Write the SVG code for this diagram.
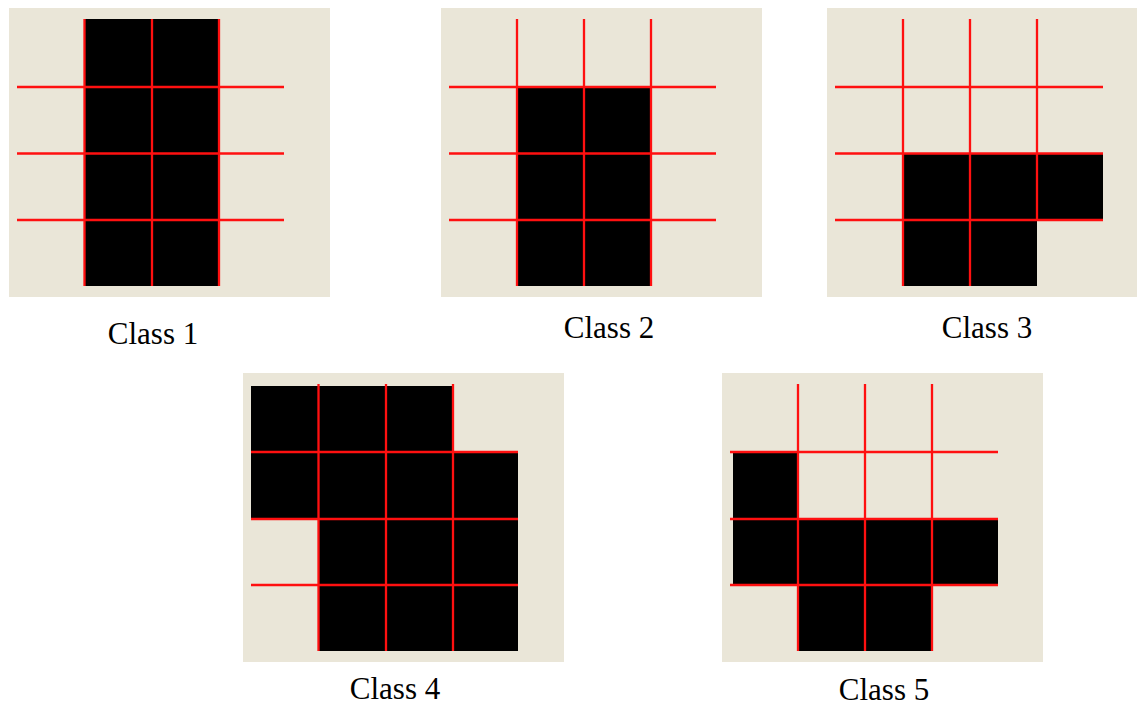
<svg xmlns="http://www.w3.org/2000/svg" width="1137" height="706" viewBox="0 0 1137 706">
<style>
.bg{fill:#eae6d8}
.cell{fill:#000}
.g{stroke:#ff1010;stroke-width:2.3;fill:none}
.lbl{font-family:"Liberation Serif","Times New Roman",serif;font-size:31px;fill:#000;text-anchor:middle}
</style>
<rect width="1137" height="706" fill="#fff"/>
<g id="class1">
<rect class="bg" x="9" y="8" width="321" height="289"/>
<rect class="cell" x="84" y="19" width="135" height="267"/>
<path class="g" d="M84.5 19V286M152 19V286M219 19V286M17 87H284M17 153.5H284M17 220H284"/>
<text class="lbl" x="153" y="344">Class 1</text>
</g>
<g id="class2">
<rect class="bg" x="441" y="8" width="321" height="289"/>
<rect class="cell" x="517" y="87" width="134" height="199"/>
<path class="g" d="M517 19V286M584 19V286M651 19V286M449 87H716M449 153.5H716M449 220H716"/>
<text class="lbl" x="609" y="338">Class 2</text>
</g>
<g id="class3">
<rect class="bg" x="827" y="8" width="310" height="289"/>
<path class="cell" d="M903 153.5H1103V220H1037V286H903Z"/>
<path class="g" d="M903 19V286M970 19V286M1037 19V220M835 87H1103M835 153.5H1103M835 220H1103"/>
<text class="lbl" x="987" y="338">Class 3</text>
</g>
<g id="class4">
<rect class="bg" x="243" y="373" width="321" height="289"/>
<path class="cell" d="M251 386H453V452H518V651H318V519H251Z"/>
<path class="g" d="M318.5 384V651M386 384V651M453 384V651M251 452H518M251 519H518M251 585H518"/>
<text class="lbl" x="395" y="699">Class 4</text>
</g>
<g id="class5">
<rect class="bg" x="722" y="373" width="321" height="289"/>
<path class="cell" d="M733 452H798V519H998V585H932V651H798V585H733Z"/>
<path class="g" d="M798 384V651M865 384V651M932 384V651M730 452H998M730 519H998M730 585H998"/>
<text class="lbl" x="884" y="700">Class 5</text>
</g>
</svg>
